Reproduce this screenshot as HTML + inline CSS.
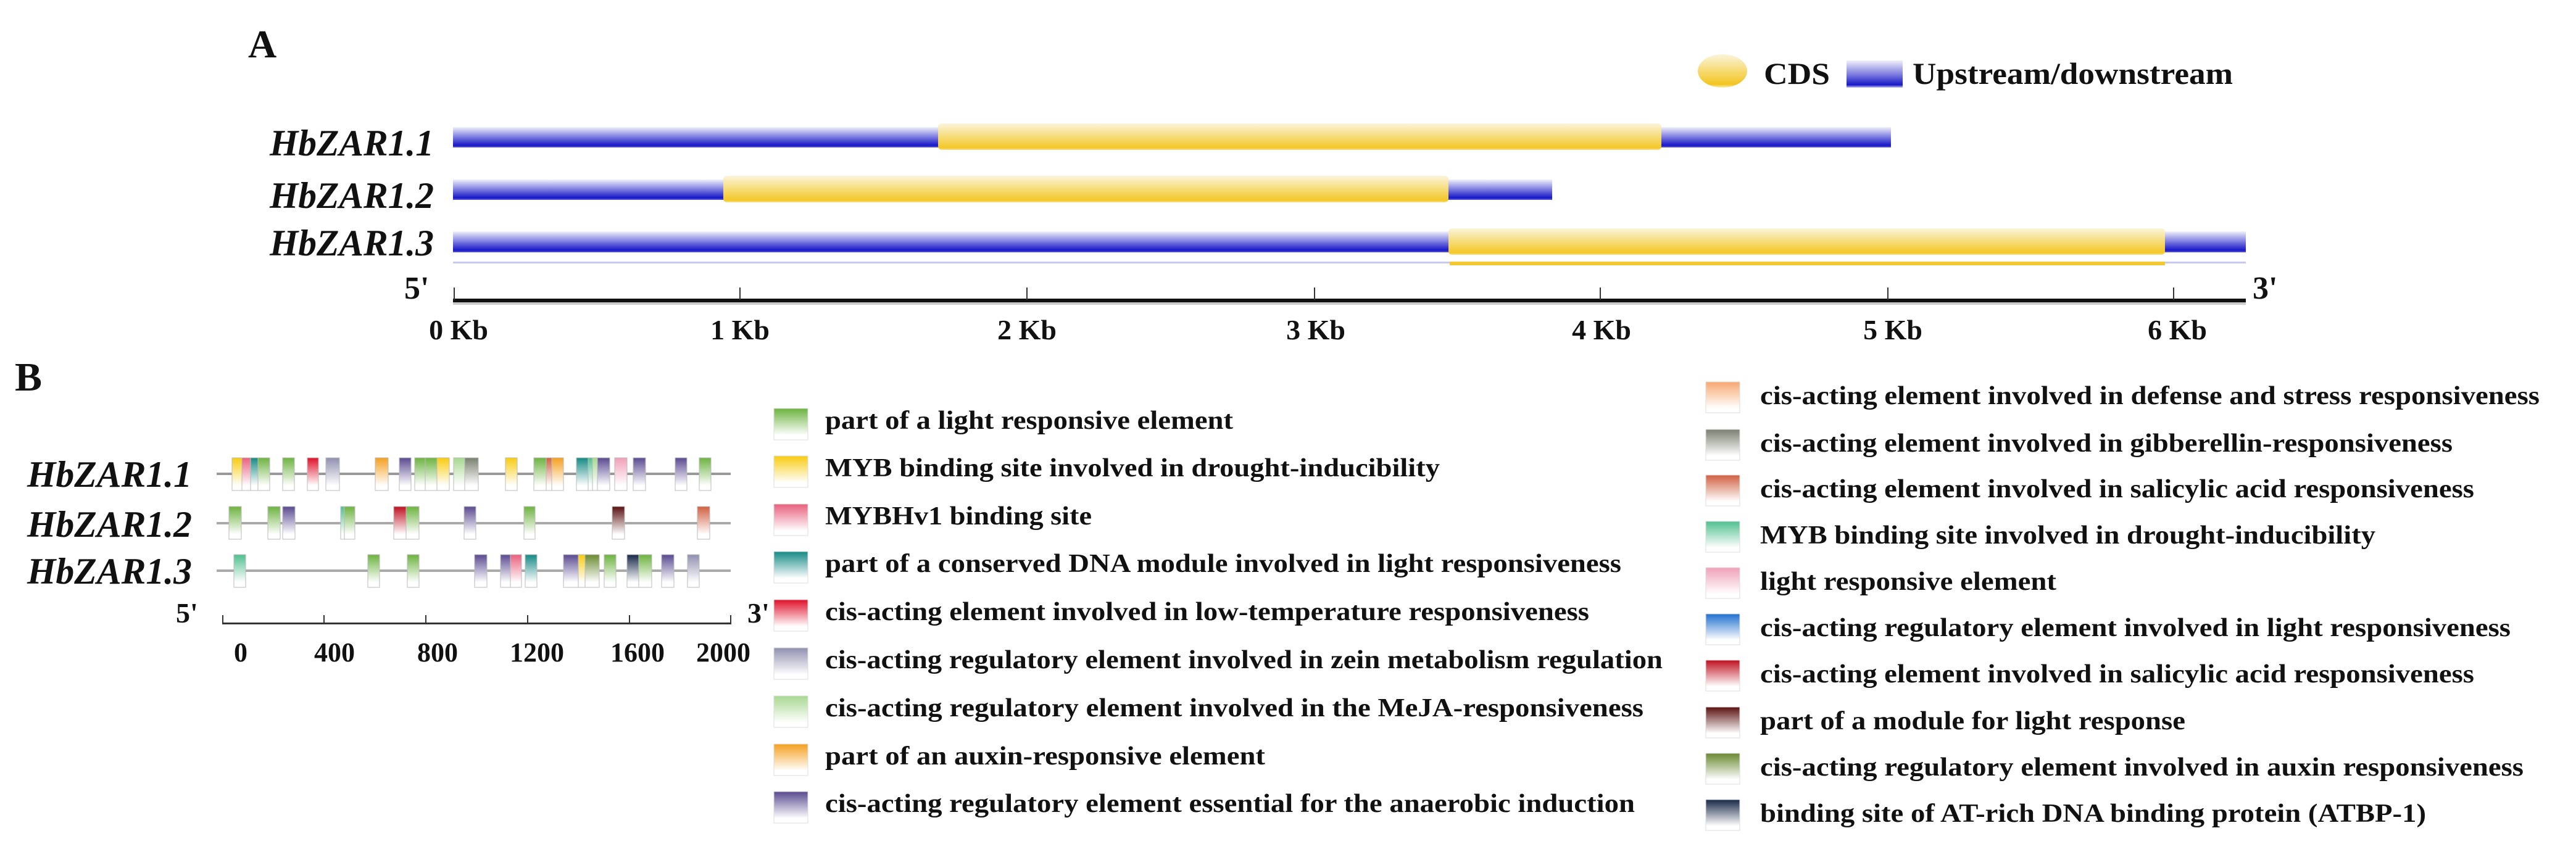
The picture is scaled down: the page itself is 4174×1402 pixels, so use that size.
<!DOCTYPE html>
<html><head><meta charset="utf-8"><style>
html,body{margin:0;padding:0;background:#fff;}
svg{display:block;}
text{font-family:"Liberation Serif",serif;font-weight:bold;fill:#111;}
</style></head><body>
<svg width="4174" height="1402" viewBox="0 0 4174 1402" xmlns="http://www.w3.org/2000/svg">
<defs>
<linearGradient id="blue" x1="0" y1="0" x2="0" y2="1"><stop offset="0" stop-color="#f0f0fc"/><stop offset="0.5" stop-color="#7878e0"/><stop offset="0.9" stop-color="#1818c8"/><stop offset="1" stop-color="#6060d8"/></linearGradient>
<linearGradient id="yel" x1="0" y1="0" x2="0" y2="1"><stop offset="0" stop-color="#fbf4dc"/><stop offset="0.5" stop-color="#f6dc78"/><stop offset="0.92" stop-color="#f4c828"/><stop offset="1" stop-color="#f8e090"/></linearGradient>
<linearGradient id="yelv" x1="0" y1="0" x2="0" y2="1"><stop offset="0" stop-color="#fbf4dc"/><stop offset="0.55" stop-color="#f6d868"/><stop offset="0.9" stop-color="#f2c420"/><stop offset="1" stop-color="#fbeeb0"/></linearGradient>
<linearGradient id="bluev" x1="0" y1="0" x2="0" y2="1"><stop offset="0" stop-color="#f0f0fc"/><stop offset="0.5" stop-color="#8080e0"/><stop offset="0.9" stop-color="#1818c8"/><stop offset="1" stop-color="#c0c0f0"/></linearGradient>
<linearGradient id="g_gr" x1="0" y1="0" x2="0" y2="1"><stop offset="0" stop-color="#6cb33f"/><stop offset="0.85" stop-color="#fff"/></linearGradient>
<linearGradient id="g_ye" x1="0" y1="0" x2="0" y2="1"><stop offset="0" stop-color="#f8cc10"/><stop offset="0.85" stop-color="#fff"/></linearGradient>
<linearGradient id="g_pk" x1="0" y1="0" x2="0" y2="1"><stop offset="0" stop-color="#e8607e"/><stop offset="0.85" stop-color="#fff"/></linearGradient>
<linearGradient id="g_tl" x1="0" y1="0" x2="0" y2="1"><stop offset="0" stop-color="#158a85"/><stop offset="0.85" stop-color="#fff"/></linearGradient>
<linearGradient id="g_rd" x1="0" y1="0" x2="0" y2="1"><stop offset="0" stop-color="#e0102a"/><stop offset="0.85" stop-color="#fff"/></linearGradient>
<linearGradient id="g_lv" x1="0" y1="0" x2="0" y2="1"><stop offset="0" stop-color="#9090b0"/><stop offset="0.85" stop-color="#fff"/></linearGradient>
<linearGradient id="g_lg" x1="0" y1="0" x2="0" y2="1"><stop offset="0" stop-color="#a8d890"/><stop offset="0.85" stop-color="#fff"/></linearGradient>
<linearGradient id="g_or" x1="0" y1="0" x2="0" y2="1"><stop offset="0" stop-color="#f5a020"/><stop offset="0.85" stop-color="#fff"/></linearGradient>
<linearGradient id="g_pu" x1="0" y1="0" x2="0" y2="1"><stop offset="0" stop-color="#5a4a90"/><stop offset="0.85" stop-color="#fff"/></linearGradient>
<linearGradient id="g_gy" x1="0" y1="0" x2="0" y2="1"><stop offset="0" stop-color="#7a8070"/><stop offset="0.85" stop-color="#fff"/></linearGradient>
<linearGradient id="g_sa" x1="0" y1="0" x2="0" y2="1"><stop offset="0" stop-color="#f8a870"/><stop offset="0.85" stop-color="#fff"/></linearGradient>
<linearGradient id="g_mi" x1="0" y1="0" x2="0" y2="1"><stop offset="0" stop-color="#50c090"/><stop offset="0.85" stop-color="#fff"/></linearGradient>
<linearGradient id="g_lp" x1="0" y1="0" x2="0" y2="1"><stop offset="0" stop-color="#f0a0b8"/><stop offset="0.85" stop-color="#fff"/></linearGradient>
<linearGradient id="g_bl" x1="0" y1="0" x2="0" y2="1"><stop offset="0" stop-color="#2070d0"/><stop offset="0.85" stop-color="#fff"/></linearGradient>
<linearGradient id="g_dr" x1="0" y1="0" x2="0" y2="1"><stop offset="0" stop-color="#c01020"/><stop offset="0.85" stop-color="#fff"/></linearGradient>
<linearGradient id="g_br" x1="0" y1="0" x2="0" y2="1"><stop offset="0" stop-color="#5a1010"/><stop offset="0.85" stop-color="#fff"/></linearGradient>
<linearGradient id="g_ol" x1="0" y1="0" x2="0" y2="1"><stop offset="0" stop-color="#6a8a30"/><stop offset="0.85" stop-color="#fff"/></linearGradient>
<linearGradient id="g_nv" x1="0" y1="0" x2="0" y2="1"><stop offset="0" stop-color="#182848"/><stop offset="0.85" stop-color="#fff"/></linearGradient>
<linearGradient id="g_so" x1="0" y1="0" x2="0" y2="1"><stop offset="0" stop-color="#d06040"/><stop offset="0.85" stop-color="#fff"/></linearGradient>
</defs>

<text x="402" y="93" font-size="64">A</text>
<rect x="2751" y="88" width="80" height="54" rx="40" ry="27" fill="url(#yelv)"/>
<text x="2858" y="136" font-size="50" textLength="107" lengthAdjust="spacingAndGlyphs">CDS</text>
<rect x="2992" y="98" width="91" height="44" fill="url(#bluev)"/>
<text x="3099" y="136" font-size="50" textLength="519" lengthAdjust="spacingAndGlyphs">Upstream/downstream</text>

<g font-style="italic">
<text x="437" y="252" font-size="60" textLength="266" lengthAdjust="spacingAndGlyphs">HbZAR1.1</text>
<text x="437" y="337" font-size="60" textLength="266" lengthAdjust="spacingAndGlyphs">HbZAR1.2</text>
<text x="437" y="414" font-size="60" textLength="266" lengthAdjust="spacingAndGlyphs">HbZAR1.3</text>
</g>

<rect x="734" y="206" width="2330" height="33" fill="url(#blue)"/>
<rect x="1520" y="200" width="1172" height="43" rx="6" fill="url(#yel)"/>
<rect x="734" y="291" width="1781" height="33" fill="url(#blue)"/>
<rect x="1172" y="285" width="1175" height="43" rx="6" fill="url(#yel)"/>
<rect x="734" y="375" width="2905" height="34" fill="url(#blue)"/>
<rect x="2347" y="370" width="1161" height="43" rx="6" fill="url(#yel)"/>
<rect x="734" y="424" width="2905" height="3" fill="#c8c8f0"/>
<rect x="2349" y="424" width="1159" height="6" fill="#f4c830"/>

<rect x="734" y="484" width="2905" height="6" fill="#111"/>
<rect x="734" y="490" width="2905" height="4" fill="#ccc"/>
<g stroke="#333" stroke-width="2">
<line x1="736" y1="466" x2="736" y2="486"/><line x1="1199" y1="466" x2="1199" y2="486"/><line x1="1664" y1="466" x2="1664" y2="486"/><line x1="2130" y1="466" x2="2130" y2="486"/><line x1="2593" y1="466" x2="2593" y2="486"/><line x1="3059" y1="466" x2="3059" y2="486"/><line x1="3522" y1="466" x2="3522" y2="486"/>
</g>
<text x="655" y="484" font-size="52">5'</text>
<text x="3650" y="484" font-size="52">3'</text>
<g font-size="46" text-anchor="middle">
<text x="743" y="550">0 Kb</text><text x="1199" y="550">1 Kb</text><text x="1664" y="550">2 Kb</text><text x="2132" y="550">3 Kb</text><text x="2595" y="550">4 Kb</text><text x="3067" y="550">5 Kb</text><text x="3528" y="550">6 Kb</text>
</g>

<text x="24" y="633" font-size="66">B</text>
<g font-style="italic">
<text x="44" y="789" font-size="60" textLength="267" lengthAdjust="spacingAndGlyphs">HbZAR1.1</text>
<text x="44" y="870" font-size="60" textLength="267" lengthAdjust="spacingAndGlyphs">HbZAR1.2</text>
<text x="44" y="946" font-size="60" textLength="267" lengthAdjust="spacingAndGlyphs">HbZAR1.3</text>
</g>
<rect x="351" y="766" width="833" height="4" fill="#999"/>
<rect x="351" y="846" width="833" height="4" fill="#aaa"/>
<rect x="351" y="923" width="833" height="4" fill="#aaa"/>

<g stroke="#bbb" stroke-width="1">
<rect x="376" y="742" width="16" height="53" fill="url(#g_ye)"/>
<rect x="392" y="742" width="14" height="53" fill="url(#g_pk)"/>
<rect x="406" y="742" width="12" height="53" fill="url(#g_tl)"/>
<rect x="418" y="742" width="19" height="53" fill="url(#g_gr)"/>
<rect x="458" y="742" width="19" height="53" fill="url(#g_gr)"/>
<rect x="498" y="742" width="18" height="53" fill="url(#g_rd)"/>
<rect x="528" y="742" width="22" height="53" fill="url(#g_lv)"/>
<rect x="608" y="742" width="21" height="53" fill="url(#g_or)"/>
<rect x="647" y="742" width="19" height="53" fill="url(#g_pu)"/>
<rect x="672" y="742" width="17" height="53" fill="url(#g_gr)"/>
<rect x="689" y="742" width="19" height="53" fill="url(#g_gr)"/>
<rect x="708" y="742" width="20" height="53" fill="url(#g_ye)"/>
<rect x="735" y="742" width="18" height="53" fill="url(#g_lg)"/>
<rect x="753" y="742" width="22" height="53" fill="url(#g_gy)"/>
<rect x="819" y="742" width="19" height="53" fill="url(#g_ye)"/>
<rect x="865" y="742" width="20" height="53" fill="url(#g_gr)"/>
<rect x="885" y="742" width="9" height="53" fill="url(#g_so)"/>
<rect x="894" y="742" width="19" height="53" fill="url(#g_or)"/>
<rect x="934" y="742" width="19" height="53" fill="url(#g_tl)"/>
<rect x="953" y="742" width="7" height="53" fill="url(#g_mi)"/>
<rect x="960" y="742" width="8" height="53" fill="url(#g_lg)"/>
<rect x="968" y="742" width="20" height="53" fill="url(#g_pu)"/>
<rect x="996" y="742" width="20" height="53" fill="url(#g_lp)"/>
<rect x="1026" y="742" width="20" height="53" fill="url(#g_pu)"/>
<rect x="1094" y="742" width="19" height="53" fill="url(#g_pu)"/>
<rect x="1133" y="742" width="19" height="53" fill="url(#g_gr)"/>
<rect x="371" y="821" width="20" height="53" fill="url(#g_gr)"/>
<rect x="434" y="821" width="20" height="53" fill="url(#g_gr)"/>
<rect x="458" y="821" width="20" height="53" fill="url(#g_pu)"/>
<rect x="552" y="821" width="6" height="53" fill="url(#g_mi)"/>
<rect x="558" y="821" width="17" height="53" fill="url(#g_gr)"/>
<rect x="638" y="821" width="20" height="53" fill="url(#g_dr)"/>
<rect x="658" y="821" width="21" height="53" fill="url(#g_gr)"/>
<rect x="752" y="821" width="19" height="53" fill="url(#g_pu)"/>
<rect x="849" y="821" width="18" height="53" fill="url(#g_gr)"/>
<rect x="992" y="821" width="20" height="53" fill="url(#g_br)"/>
<rect x="1130" y="821" width="20" height="53" fill="url(#g_so)"/>
<rect x="379" y="899" width="19" height="53" fill="url(#g_mi)"/>
<rect x="596" y="899" width="19" height="53" fill="url(#g_gr)"/>
<rect x="660" y="899" width="19" height="53" fill="url(#g_gr)"/>
<rect x="769" y="899" width="20" height="53" fill="url(#g_pu)"/>
<rect x="811" y="899" width="16" height="53" fill="url(#g_pu)"/>
<rect x="827" y="899" width="18" height="53" fill="url(#g_pk)"/>
<rect x="851" y="899" width="19" height="53" fill="url(#g_tl)"/>
<rect x="913" y="899" width="24" height="53" fill="url(#g_pu)"/>
<rect x="937" y="899" width="11" height="53" fill="url(#g_ye)"/>
<rect x="948" y="899" width="23" height="53" fill="url(#g_ol)"/>
<rect x="979" y="899" width="19" height="53" fill="url(#g_gr)"/>
<rect x="1016" y="899" width="19" height="53" fill="url(#g_nv)"/>
<rect x="1035" y="899" width="21" height="53" fill="url(#g_gr)"/>
<rect x="1072" y="899" width="20" height="53" fill="url(#g_pu)"/>
<rect x="1114" y="899" width="19" height="53" fill="url(#g_lv)"/>
</g>

<rect x="360" y="1009" width="825" height="3" fill="#333"/>
<g stroke="#333" stroke-width="2">
<line x1="361" y1="997" x2="361" y2="1011"/><line x1="525" y1="997" x2="525" y2="1011"/><line x1="690" y1="997" x2="690" y2="1011"/><line x1="855" y1="997" x2="855" y2="1011"/><line x1="1020" y1="997" x2="1020" y2="1011"/><line x1="1184" y1="997" x2="1184" y2="1011"/>
</g>
<text x="285" y="1009" font-size="46">5'</text>
<text x="1211" y="1009" font-size="46">3'</text>
<g font-size="44" text-anchor="middle">
<text x="390" y="1072">0</text><text x="542" y="1072">400</text><text x="709" y="1072">800</text><text x="870" y="1072">1200</text><text x="1033" y="1072">1600</text><text x="1172" y="1072">2000</text>
</g>

<g stroke="#ddd" stroke-width="1">
<rect x="1254" y="662" width="55" height="51" fill="url(#g_gr)"/>
<rect x="1254" y="739" width="55" height="51" fill="url(#g_ye)"/>
<rect x="1254" y="817" width="55" height="51" fill="url(#g_pk)"/>
<rect x="1254" y="894" width="55" height="51" fill="url(#g_tl)"/>
<rect x="1254" y="972" width="55" height="51" fill="url(#g_rd)"/>
<rect x="1254" y="1050" width="55" height="51" fill="url(#g_lv)"/>
<rect x="1254" y="1128" width="55" height="51" fill="url(#g_lg)"/>
<rect x="1254" y="1206" width="55" height="51" fill="url(#g_or)"/>
<rect x="1254" y="1283" width="55" height="51" fill="url(#g_pu)"/>
</g>
<g font-size="42">
<text x="1337" y="695" textLength="661" lengthAdjust="spacingAndGlyphs">part of a light responsive element</text>
<text x="1337" y="772" textLength="996" lengthAdjust="spacingAndGlyphs">MYB binding site involved in drought-inducibility</text>
<text x="1337" y="850" textLength="432" lengthAdjust="spacingAndGlyphs">MYBHv1 binding site</text>
<text x="1337" y="927" textLength="1290" lengthAdjust="spacingAndGlyphs">part of a conserved DNA module involved in light responsiveness</text>
<text x="1337" y="1005" textLength="1238" lengthAdjust="spacingAndGlyphs">cis-acting element involved in low-temperature responsiveness</text>
<text x="1337" y="1083" textLength="1357" lengthAdjust="spacingAndGlyphs">cis-acting regulatory element involved in zein metabolism regulation</text>
<text x="1337" y="1161" textLength="1326" lengthAdjust="spacingAndGlyphs">cis-acting regulatory element involved in the MeJA-responsiveness</text>
<text x="1337" y="1239" textLength="713" lengthAdjust="spacingAndGlyphs">part of an auxin-responsive element</text>
<text x="1337" y="1316" textLength="1312" lengthAdjust="spacingAndGlyphs">cis-acting regulatory element essential for the anaerobic induction</text>
</g>

<g stroke="#ddd" stroke-width="1">
<rect x="2764" y="619" width="55" height="50" fill="url(#g_sa)"/>
<rect x="2764" y="696" width="55" height="50" fill="url(#g_gy)"/>
<rect x="2764" y="770" width="55" height="50" fill="url(#g_so)"/>
<rect x="2764" y="845" width="55" height="50" fill="url(#g_mi)"/>
<rect x="2764" y="920" width="55" height="50" fill="url(#g_lp)"/>
<rect x="2764" y="995" width="55" height="50" fill="url(#g_bl)"/>
<rect x="2764" y="1070" width="55" height="50" fill="url(#g_dr)"/>
<rect x="2764" y="1146" width="55" height="50" fill="url(#g_br)"/>
<rect x="2764" y="1221" width="55" height="50" fill="url(#g_ol)"/>
<rect x="2764" y="1296" width="55" height="50" fill="url(#g_nv)"/>
</g>
<g font-size="42">
<text x="2852" y="655" textLength="1263" lengthAdjust="spacingAndGlyphs">cis-acting element involved in defense and stress responsiveness</text>
<text x="2852" y="732" textLength="1122" lengthAdjust="spacingAndGlyphs">cis-acting element involved in gibberellin-responsiveness</text>
<text x="2852" y="806" textLength="1157" lengthAdjust="spacingAndGlyphs">cis-acting element involved in salicylic acid responsiveness</text>
<text x="2852" y="881" textLength="997" lengthAdjust="spacingAndGlyphs">MYB binding site involved in drought-inducibility</text>
<text x="2852" y="956" textLength="480" lengthAdjust="spacingAndGlyphs">light responsive element</text>
<text x="2852" y="1031" textLength="1216" lengthAdjust="spacingAndGlyphs">cis-acting regulatory element involved in light responsiveness</text>
<text x="2852" y="1106" textLength="1157" lengthAdjust="spacingAndGlyphs">cis-acting element involved in salicylic acid responsiveness</text>
<text x="2852" y="1182" textLength="689" lengthAdjust="spacingAndGlyphs">part of a module for light response</text>
<text x="2852" y="1257" textLength="1237" lengthAdjust="spacingAndGlyphs">cis-acting regulatory element involved in auxin responsiveness</text>
<text x="2852" y="1332" textLength="1079" lengthAdjust="spacingAndGlyphs">binding site of AT-rich DNA binding protein (ATBP-1)</text>
</g>
</svg>
</body></html>
